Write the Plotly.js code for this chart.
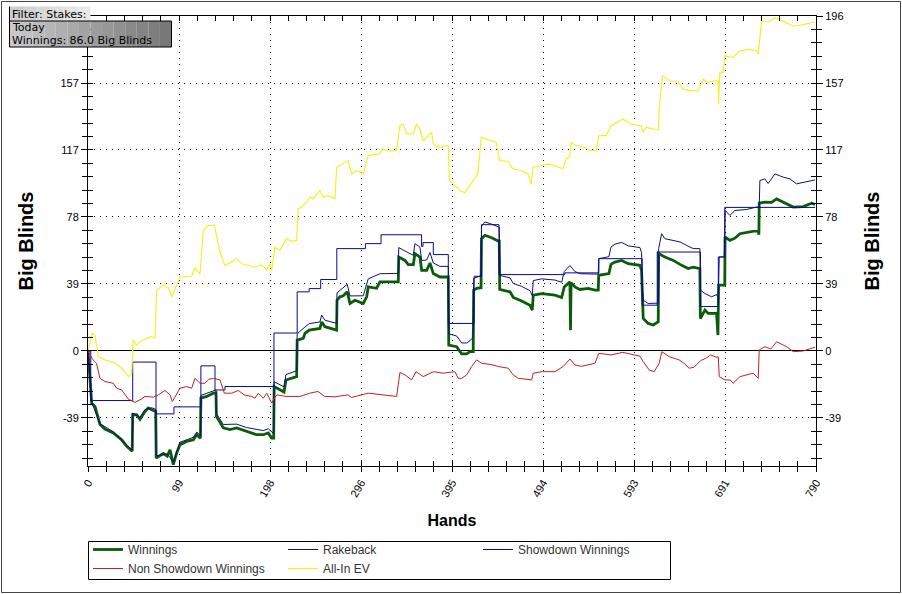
<!DOCTYPE html>
<html>
<head>
<meta charset="utf-8">
<script src="https://cdn.plot.ly/plotly-3.0.1.min.js"></script>
<style>
html,body{margin:0;padding:0;background:#fff;}
#wrap{position:relative;width:902px;height:594px;}
#chart{width:902px;height:594px;}
</style>
</head>
<body>
<div id="wrap"><div id="chart"></div></div>
<script>
// ---------- DATA ----------
const xTickLabels = ['0','99','198','296','395','494','593','691','790'];
const yTickLabels = ['-39','0','39','78','117','157','196'];
const yTickStart = -1; // index of first y tick (in steps)

const winHands = [0,4,7.6,13,18.4,27.5,36.6,42,48,48.5,52.8,56.4,61.8,65.4,69.1,73.5,74,81.7,86,89,92.6,96.2,99.8,107,114.3,118,122,122.5,128.8,136,138.9,139.3,146.8,154,161.3,172.2,183,190.2,195.6,199.3,201.5,202,208.3,212.7,214.8,221,226.4,227,233.6,235.4,240,251.7,253.6,257.1,268,269.8,270.2,273.4,277,281.3,284.3,289.7,298.7,302.4,304.1,313.2,316.8,336.7,337.2,344,347.5,353,354.8,360.2,362.1,367.5,371.1,374.7,381.9,391,391.5,400,405.5,410.9,414.5,418,418.5,421.7,426.5,427,430.7,438,445.2,446.3,446.8,457.9,461.5,468.7,470.6,479.6,482.1,483.2,492.3,506.7,514,516.8,523,523.6,524.2,528.4,533.8,542.8,550.1,553.7,554.2,565.3,567.5,571.8,579.1,586.2,598.9,600.7,601.4,602.5,607.9,613.4,618.8,619.3,626,635.2,644.2,651.3,656.8,664,664.5,669.5,673,682.1,683.6,684.3,691,691.3,696.6,702,707.4,718.3,727.3,728,728.4,734.5,741.8,747.2,754.4,765.3,776.1,785.2,789];
const winValues = [0,-30.5,-32.5,-43,-45.7,-48,-52,-55.8,-58.7,-37.3,-37.3,-40,-35.4,-33.4,-34.4,-35.4,-62.6,-60,-61.5,-57.8,-66.5,-59.7,-54.8,-52.9,-52,-49,-51,-27.6,-26.6,-24.7,-24.5,-38.3,-45,-46,-45,-47,-49,-49,-48,-51,-51,-20.8,-22.8,-24,-17,-16,-15,6.4,7.4,10.3,12.2,13.2,17,14.2,12.2,12.2,29.7,31.7,32.3,34.6,27.8,29.7,27.8,31.7,37.5,36.7,40.4,40.4,55,53,50.5,50.5,57,55,47.2,47.2,51.5,45.3,43.3,43.3,3.5,2.5,-1.7,-1.7,-0.4,-0.4,35.6,36.6,37,65.7,67.7,66.3,64.3,64.3,36,34.6,31.3,29.7,29.3,26.8,23.9,32.7,33.6,32.7,31.3,37.5,40.4,12.2,40,37.5,36,36.6,35.6,35.6,44.3,45.3,50.7,52,53,51.1,50.1,47.2,30,19,16.1,15.2,17.1,57,55,53,50.1,48.2,49,48.2,19,23.9,22,22,9.3,38.5,38.5,66.7,64.7,66,68.6,69.6,70.6,68,86.5,87.1,87,89,87.1,84.2,84.5,86.5,85.7];

const rbHands = [0,4,13,27.5,42,48,48.5,56.4,61.8,69.1,73.5,74,86,92.6,99.8,114.3,118,122,122.5,136,138.9,139.3,146.8,161.3,172.2,190.2,195.6,201.5,202,212.7,214.8,226.4,227,235.4,240,251.7,253.6,257.1,269.8,270.2,281.3,284.3,298.7,304.1,316.8,336.7,337.2,344,353,354.8,360.2,362.1,367.5,371.1,374.7,381.9,391,391.5,400,405.5,410.9,414.5,418,418.5,426.5,427,430.7,438,445.2,446.3,446.8,457.9,461.5,470.6,479.6,482.1,483.2,492.3,506.7,514,516.8,523,528.4,533.8,550.1,553.7,554.2,565.3,567.5,571.8,579.1,586.2,598.9,600.7,601.4,602.5,607.9,618.8,619.3,622.5,626,635.2,642.5,649.6,656.8,664,664.6,669.5,676.7,682.1,684,685,690.5,691.5,696.6,702,714.7,725.5,728.4,729.1,734.5,738.1,745.4,754.4,761.7,768.9,778,789];
const rbValues = [0,-30,-42.5,-47.3,-55,-58,-36.3,-39,-34.3,-33.2,-34.2,-61.4,-60.2,-65,-53.4,-50.5,-47.4,-49.4,-26,-23,-22.8,-36.5,-43,-42.8,-44.8,-46.6,-45.5,-48.3,-18,-21,-13.8,-11.6,10,14,16,17,21,18,16.2,34,39,32.2,32.3,42.2,45.2,45.4,60.5,58.5,56,62.8,60.8,53,53.2,57.6,51.5,49.5,49.5,10,8.8,4.7,4.7,6,8,42.5,44,73,75.5,74.2,72.4,72.4,44.2,42.8,39.5,37.8,35.3,32.4,41.2,42.2,41.5,40.2,46.5,50,46.5,45.2,45,45,54,55.2,60.8,62.5,63.5,61.5,60.5,57.5,40,29.7,27.8,28,60,68.6,65.7,64.7,63.8,61.8,59.9,59.9,35.6,33.6,31.7,33,31,55,55,82.2,79.3,82.2,82.8,84.2,84.2,99.7,100.7,98,103.6,101.7,100.7,97.8,98.9,100.1];

const sdHands = [0,3,48.5,73.8,93.3,122.5,137.8,148.6,201.8,227,240,252.5,270,301,318,362,363.5,374.7,391,419,427,446,517.5,554.4,601.4,617.7,664.6,684,691,789];
const sdValues = [0,-29,-6.5,-36.8,-32.7,-8.7,-22.8,-20.8,10.5,34.6,36.5,41.8,59.9,62.8,68,61.2,63.4,56.4,16.1,43.7,73.9,44.7,45.7,54,26.8,57.9,26,55,84,84];

const nsdHands = [0,5.4,9.2,13,18.4,27.5,31.1,36.6,43.8,51,56.4,61.8,70.9,76.3,83.5,89,91.5,96.2,99.8,107,112.5,116,121.5,126.9,131.3,136,143.2,147.9,155.9,163.1,169.6,177.6,181.2,184.8,190.2,194,199.3,203,205,215,230,240.6,249.6,256.8,268,282,286,304.1,315,334.9,338.5,344,351.2,355.9,363.8,374.7,385.6,398.2,401.8,405.5,410.9,416.3,421.7,427.2,438,445.2,456.1,461.5,467,481.5,483.2,492.3,506.7,515.7,523,528.4,535.6,550.1,554.4,567.5,580.1,589,598.9,602.5,608.9,614.4,619.8,622.7,630.6,641.4,646.8,652.3,657.7,664.9,670.3,675.7,681.2,684,685,691.1,697,700,707.4,721.9,727.3,728.4,734.5,741,747.2,758.1,765.3,776.1,787,789];
const nsdValues = [0,-5.2,-7.2,-16,-17.9,-18.9,-21.8,-22.8,-28.2,-30.1,-28.6,-26.6,-27,-25.7,-23.1,-25.7,-29.6,-24.7,-21.8,-20.8,-21.8,-16,-18.9,-18.9,-16.5,-16,-16.9,-24.7,-24.7,-23.1,-25.7,-26.6,-27.6,-24.7,-27.6,-24.7,-30.5,-27,-25.7,-26.6,-26.6,-24.7,-23.7,-26.6,-26.8,-25.7,-27.2,-24.7,-25.5,-26.6,-12.6,-14,-16.9,-12.1,-15,-12.1,-13,-12.1,-16,-16,-14,-9.1,-5.2,-7.2,-8,-9.1,-10.1,-14,-16,-16.9,-13,-12.1,-12.1,-9.1,-4.7,-8.2,-9,-7.2,-1.4,-2.3,-0.8,-1.8,-3,-6.2,-11.1,-12.1,-7.2,-0.4,-3.3,-5.2,-7.2,-10.1,-9.5,-5.6,-4.3,-2.3,-3.5,-3.5,-15,-16.9,-17,-18.9,-15,-13,-16,0.6,2.5,1.2,5.4,2.5,-0.4,0,2.1,2.2];

const evHands = [0,4.4,7.6,11.2,18.4,29.3,36.6,43.8,47.4,49.1,52.8,56.4,63.7,69.1,72.7,74.6,81.7,87.2,90.8,95.2,99.8,112.5,116,121.5,125.1,130.6,137.1,143.2,148.6,155.9,161.3,166.7,173.9,181.2,188,193.8,197.5,199.3,202.9,208.3,215.6,221,226.4,228.1,231.9,237.2,240.8,244.4,251.7,255.3,260.7,268,269.8,277,282.4,286.1,291.5,298.7,304.1,316.8,318.6,327.6,334.9,338.5,342.1,345.7,352.9,356.6,360.2,363.8,369.3,372.9,374.7,381.9,389.2,391,392.1,396.4,403.7,409,414.5,423,426.8,432.1,443,446.6,455.6,461,470.1,477.3,481,482.8,491.8,500.8,508.1,515.3,519,522.6,524.4,529.8,537,546.1,551.5,554.4,562.3,567.7,580.3,589.4,600.2,602,606,613.4,618.8,620.6,623.5,631.4,640.4,645.8,653.1,662.1,667.6,673,678.4,683.9,684.3,685.6,689.2,691.1,700.1,707.4,718.3,725.5,727.3,731,738.1,745.4,754.4,765.3,776.1,787,789];
const evValues = [0,10.3,9,-3.3,-5.2,-7.2,-10.1,-15,-13,6.4,3.5,5.4,7.4,8.4,7.5,35.6,38.5,37,31.7,37.5,43.3,43.7,48.8,45,70.6,73.5,73.5,57.9,50.1,52,54,51,50.1,49,50.5,47.6,51.1,47,60.8,59,65.7,64.2,64.7,83.2,84.2,87.1,90,89,93.9,90,91,89,107.5,109.5,111.4,103.6,105.6,103.6,114.3,115.3,118.2,117,117.5,131.8,132.8,127,127,132.8,130,123,126,128,121,119.2,120.2,120,99.7,97.8,93.9,92.6,97,103.6,125,124,122,111.4,111,106.6,105.6,103.6,97.8,107.5,108.5,109.5,108,106.6,112.4,113.5,122,120.2,119.5,117.2,117.2,126,126,131.8,135.7,132.8,131.8,128,131,129.8,129.5,146.4,161,158.1,157.1,153.2,152.3,152.3,159,157,158.1,158,144.5,163,163,172.7,171.7,175.6,176.5,175.5,173.7,193,192.5,195,193,190,191,192,192.5];

const seriesNames = ['Winnings','Rakeback','Showdown Winnings','Non Showdown Winnings','All-In EV'];
const filterLines = ['Filter: Stakes:', 'Today', 'Winnings: 86.0 Big Blinds'];

// ---------- CHART ----------
const xMax = 790, yMin = -67.3, yMax = 196;
const xStep = xMax / 8, yStep = 39.2;
const xTickVals = xTickLabels.map((_, i) => i * xStep);
const yTickVals = yTickLabels.map((_, i) => (i + yTickStart) * yStep);
// the top-left label sits under the filter box in the reference
const yTickTextLeft = yTickLabels.map((t, i) => i === yTickLabels.length - 1 ? '' : t);

const font = 'Liberation Sans, Arial, sans-serif';

const traces = [
  {x: winHands, y: winValues, name: seriesNames[0], mode: 'lines', line: {color: '#0a5c0a', width: 2.8}},
  {x: rbHands, y: rbValues, name: seriesNames[1], mode: 'lines', line: {color: '#10107a', width: 1}},
  {x: sdHands, y: sdValues, name: seriesNames[2], mode: 'lines', line: {color: '#0a0a90', width: 1, shape: 'hv'}},
  {x: nsdHands, y: nsdValues, name: seriesNames[3], mode: 'lines', line: {color: '#c42020', width: 1}},
  {x: evHands, y: evValues, name: seriesNames[4], mode: 'lines', line: {color: '#f2f22a', width: 1.2}},
  {x: [], y: [], xaxis: 'x2', yaxis: 'y2', showlegend: false, hoverinfo: 'skip'},
  {x: [], y: [], xaxis: 'x', yaxis: 'y3', showlegend: false, hoverinfo: 'skip'}
];

const px = v => (v - 88) / 728;
const py = v => (466 - v) / 450;

const shapes = [];
function lerp(a, b, t){ return Math.round(a + (b - a) * t); }
const nStrips = 14;
for (let i = 0; i < nStrips; i++) {
  const t = i / (nStrips - 1);
  const c = lerp(200, 120, t);
  shapes.push({type: 'rect', xref: 'paper', yref: 'paper', layer: 'above',
    x0: px(9.5 + (162 / nStrips) * i), x1: px(9.5 + (162 / nStrips) * (i + 1)),
    y0: py(47), y1: py(21), fillcolor: `rgb(${c},${c},${c})`, line: {width: 0}});
}
for (let i = 0; i < 6; i++) {
  const t = i / 5;
  const c = lerp(205, 232, t);
  shapes.push({type: 'rect', xref: 'paper', yref: 'paper', layer: 'above',
    x0: px(9.5 + (81 / 6) * i), x1: px(9.5 + (81 / 6) * (i + 1)),
    y0: py(21), y1: py(6.5), fillcolor: `rgb(${c},${c},${c})`, line: {width: 0}});
}
shapes.push({type: 'rect', xref: 'paper', yref: 'paper', layer: 'above',
  x0: px(9.5), x1: px(171.5), y0: py(47), y1: py(21), line: {color: '#000', width: 1}});
shapes.push({type: 'line', xref: 'paper', yref: 'paper', layer: 'above',
  x0: px(9.5), x1: px(9.5), y0: py(21), y1: py(6.5), line: {color: '#000', width: 1}});
// outer frame
shapes.push({type: 'rect', xref: 'paper', yref: 'paper', layer: 'above',
  x0: px(1.5), x1: px(900.5), y0: py(592.5), y1: py(1.5), line: {color: '#444', width: 1}});
// legend frame
shapes.push({type: 'rect', xref: 'paper', yref: 'paper', layer: 'below',
  x0: px(88.5), x1: px(670.5), y0: py(579.5), y1: py(541.5), line: {color: '#000', width: 1}});

const boxFont = {family: 'DejaVu Sans, Verdana, sans-serif', size: 11, color: '#000'};
const annotations = filterLines.map((t, i) => ({
  xref: 'paper', yref: 'paper', x: px(10.5), y: py(14 + 13 * i), xanchor: 'left', yanchor: 'middle',
  height: 12, align: 'left', showarrow: false, text: t, font: boxFont, borderpad: 0
}));

const tickFont = {family: font, size: 11, color: '#000'};
const minorX = {tickmode: 'linear', tick0: 0, dtick: xStep / 5, ticklen: 5, tickcolor: '#000', tickwidth: 1, showgrid: false};
const minorY = {tickmode: 'linear', tick0: 0, dtick: yStep / 5, ticklen: 5, tickcolor: '#000', tickwidth: 1, showgrid: false};

const layout = {
  width: 902, height: 594,
  margin: {l: 88, r: 86, t: 16, b: 128},
  paper_bgcolor: '#fff', plot_bgcolor: '#fff',
  showlegend: true,
  legend: {orientation: 'h', xref: 'container', yref: 'container',
    x: 88 / 902, xanchor: 'left', y: 1 - 535 / 594, yanchor: 'top',
    entrywidth: 150, entrywidthmode: 'pixels', borderwidth: 0,
    font: {family: font, size: 12, color: '#333'}, tracegroupgap: 0, bgcolor: 'rgba(0,0,0,0)'},
  xaxis: {range: [0, xMax], tickmode: 'array', tickvals: xTickVals, ticktext: xTickLabels,
    tickangle: -60, tickfont: tickFont, ticks: 'outside', ticklen: 5, tickcolor: '#000',
    minor: Object.assign({ticks: 'outside'}, minorX),
    showline: true, linecolor: '#000', linewidth: 1, zeroline: false,
    showgrid: true, gridcolor: '#000', griddash: '1px,5px', gridwidth: 1,
    title: {text: '<b>Hands</b>', font: {family: font, size: 16, color: '#000'}, standoff: 16},
    automargin: false, fixedrange: true},
  xaxis2: {range: [0, xMax], overlaying: 'x', side: 'bottom', tickmode: 'array', tickvals: xTickVals,
    showticklabels: false, ticks: 'inside', ticklen: 5, tickcolor: '#000',
    minor: Object.assign({ticks: 'inside'}, minorX),
    showline: true, linecolor: '#000', mirror: 'ticks', showgrid: false, zeroline: false, automargin: false},
  yaxis: {range: [yMin, yMax], tickmode: 'array', tickvals: yTickVals, ticktext: yTickTextLeft,
    tickfont: tickFont, ticks: 'outside', ticklen: 6, tickcolor: '#000',
    minor: Object.assign({ticks: 'outside', ticklen: 6}, minorY),
    showline: true, linecolor: '#000', linewidth: 1,
    showgrid: true, gridcolor: '#000', griddash: '1px,5px', gridwidth: 1,
    zeroline: true, zerolinecolor: '#000', zerolinewidth: 1,
    title: {text: '<b>Big Blinds</b>', font: {family: font, size: 20, color: '#000'}, standoff: 21},
    automargin: false, fixedrange: true},
  yaxis2: {range: [yMin, yMax], overlaying: 'y', side: 'left', tickmode: 'array', tickvals: yTickVals,
    showticklabels: false, ticks: 'inside', ticklen: 5, tickcolor: '#000',
    minor: Object.assign({ticks: 'inside'}, minorY),
    showline: true, linecolor: '#000', mirror: 'ticks', showgrid: false, zeroline: false, automargin: false},
  yaxis3: {range: [yMin, yMax], overlaying: 'y', side: 'right', tickmode: 'array', tickvals: yTickVals, ticktext: yTickLabels,
    tickfont: tickFont, ticks: 'outside', ticklen: 6, tickcolor: '#000',
    minor: Object.assign({ticks: 'outside', ticklen: 6}, minorY),
    showline: true, linecolor: '#000', showgrid: false, zeroline: false,
    title: {text: '<b>Big Blinds</b>', font: {family: font, size: 20, color: '#000'}, standoff: 22},
    automargin: false},
  shapes: shapes,
  annotations: annotations
};

Plotly.newPlot('chart', traces, layout, {displayModeBar: false, staticPlot: true});
</script>
</body>
</html>
